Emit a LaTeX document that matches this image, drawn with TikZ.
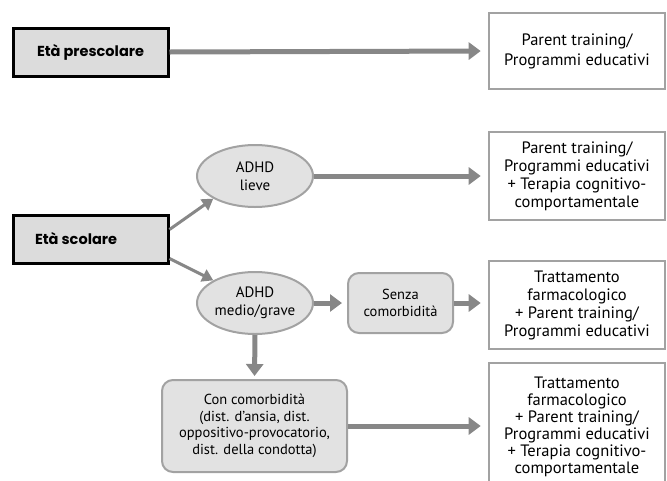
\documentclass[tikz,border=0pt]{standalone}
\usepackage{fontspec}
\setmainfont{PT Sans}
\newfontfamily\headfont{Poppins}
\usetikzlibrary{arrows.meta,shapes.geometric}

\definecolor{arrowgray}{HTML}{878787}
\definecolor{framegray}{HTML}{A2A2A2}
\definecolor{fillgray}{HTML}{E2E2E2}
\definecolor{agefill}{HTML}{DCDCDC}

\tikzset{
  agebox/.style={draw=black, line width=3pt, fill=agefill, minimum width=155pt,
    minimum height=48pt, inner sep=0pt,
    font=\headfont\bfseries\fontsize{14.5}{16}\selectfont},
  therapy/.style={draw=framegray, line width=2.6pt, fill=white, minimum width=176pt,
    align=center, font=\fontsize{16.5}{18}\selectfont},
  severity/.style={ellipse, draw=framegray, line width=2pt, fill=fillgray,
    minimum width=116pt, minimum height=62pt, inner sep=0pt, align=center,
    font=\fontsize{15}{18}\selectfont},
  roundbox/.style={draw=framegray, line width=2pt, fill=fillgray, rounded corners=11pt,
    align=center, inner sep=0pt, font=\fontsize{14.5}{16.5}\selectfont},
  flow/.style={draw=arrowgray, line width=5pt,
    -{Triangle[width=17pt,length=12pt]}, shorten >=7pt},
  branch/.style={draw=arrowgray, line width=3pt,
    -{Triangle[width=13pt,length=11pt]}},
}

\begin{document}
\begin{tikzpicture}[x=1pt, y=-1pt]
  \useasboundingbox (0,0) rectangle (667,480);

  % age groups
  \node[agebox] (pre) at (90.5,52) {Età prescolare};
  \node[agebox, text width=111pt, align=flush left] (sco) at (90.5,239) {Età scolare};

  % severity and comorbidity
  \node[severity] (lieve) at (255,176) {ADHD\\lieve};
  \node[severity] (grave) at (255,303) {ADHD\\medio/grave};
  \node[roundbox, minimum width=105pt, minimum height=60pt] (senza) at (400.5,303)
    {Senza\\comorbidità};
  \node[roundbox, minimum width=185pt, minimum height=92pt] (con) at (254.5,426)
    {Con comorbidità\\(dist. d’ansia, dist.\\oppositivo-provocatorio,\\dist. della condotta)};

  % treatments
  \node[therapy, minimum height=76pt, font=\fontsize{16.5}{20}\selectfont] (t1) at (577,51)
    {Parent training/\\Programmi educativi};
  \node[therapy, minimum height=88pt] (t2) at (577,176)
    {Parent training/\\Programmi educativi\\+ Terapia cognitivo-\\comportamentale};
  \node[therapy, minimum height=88pt] (t3) at (577,305)
    {Trattamento\\farmacologico\\+ Parent training/\\Programmi educativi};
  \node[therapy, minimum height=128pt, font=\fontsize{16.5}{17}\selectfont] (t4) at (577,427)
    {Trattamento\\farmacologico\\+ Parent training/\\Programmi educativi\\+ Terapia cognitivo-\\comportamentale};

  % connectors
  \draw[flow] (pre.east) -- (t1.west);
  \draw[flow] (lieve.east) -- (lieve.east -| t2.west);
  \draw[flow, shorten >=5pt] (grave.east) -- (senza.west);
  \draw[flow] (senza.east) -- (senza.east -| t3.west);
  \draw[flow] (con.east) -- (con.east -| t4.west);
  \draw[flow, shorten >=3pt] (grave.south) -- (con.north);
  \path (sco.north east) ++(0,16) coordinate (s1);
  \path (sco.south east) ++(0,-6) coordinate (s2);
  \draw[branch] (s1) -- (lieve.south west);
  \draw[branch] (s2) -- (grave.north west);
\end{tikzpicture}
\end{document}
